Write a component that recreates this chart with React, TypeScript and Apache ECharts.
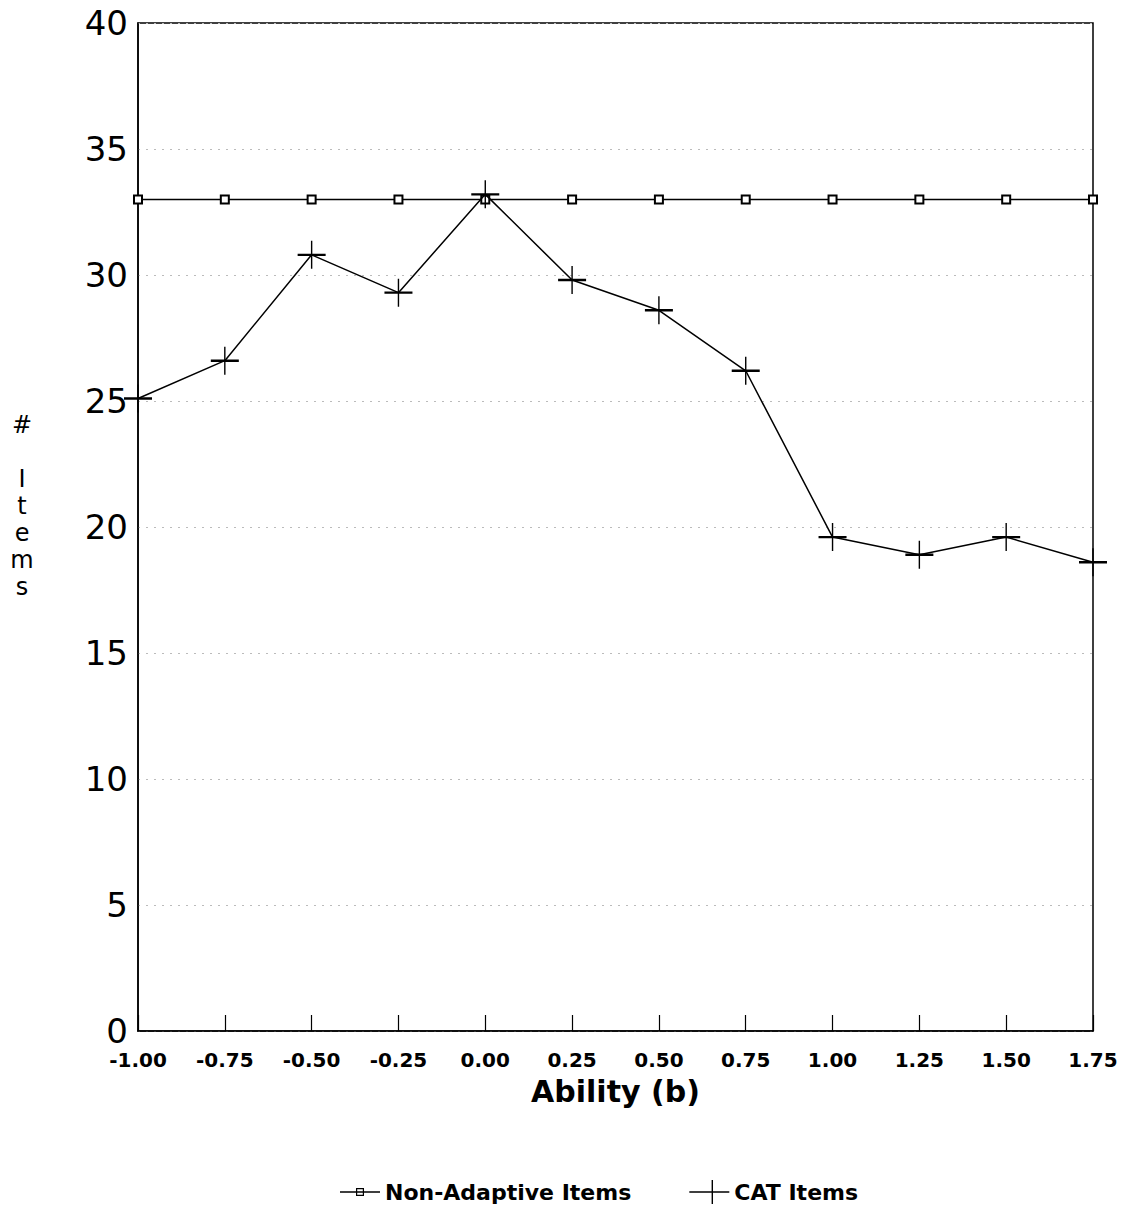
import React, { useEffect, useRef } from "react";
import * as echarts from "echarts";

const abilityTicks = [-1.0, -0.75, -0.5, -0.25, 0.0, 0.25, 0.5, 0.75, 1.0, 1.25, 1.5, 1.75];
const nonAdaptiveItems = [33, 33, 33, 33, 33, 33, 33, 33, 33, 33, 33, 33];
const catItems = [25.1, 26.6, 30.8, 29.3, 33.2, 29.8, 28.6, 26.2, 19.6, 18.9, 19.6, 18.6];
const yTitle = ["#", "", "I", "t", "e", "m", "s"];

const PLUS = "path://M0,12.8H28V15.2H0Z M13.3,0H14.7V28H13.3Z";
const LEG_NON =
  "path://M0,11.3H40V12.7H0Z M16,8H24V16H16Z M17.2,9.2V14.8H22.8V9.2Z";
const LEG_CAT = "path://M0,11.3H40V12.7H0Z M22.3,0H23.7V24H22.3Z";
const FONT = "DejaVu Sans";

export default function App() {
  const ref = useRef<HTMLDivElement>(null);
  useEffect(() => {
    if (!ref.current) return;
    const chart = echarts.init(ref.current, null, { renderer: "svg" });
    chart.setOption({
      animation: false,
      backgroundColor: "#fff",
      grid: {
        left: 138,
        right: 32,
        top: 23,
        bottom: 183,
        show: true,
        borderColor: "#000",
        borderWidth: 1.5,
        backgroundColor: "transparent",
      },
      graphic: [
        {
          type: "text",
          x: 22,
          y: 411,
          style: {
            text: yTitle.join("\n"),
            fontFamily: FONT,
            fontSize: 24,
            lineHeight: 27,
            fill: "#000",
            align: "center",
            verticalAlign: "top",
          },
        },
      ],
      legend: {
        bottom: 5,
        left: 335,
        itemWidth: 40,
        itemHeight: 24,
        itemGap: 58,
        textStyle: { fontFamily: FONT, fontSize: 22, fontWeight: "bold", color: "#000" },
        data: [
          { name: "Non-Adaptive Items", icon: LEG_NON },
          { name: "CAT Items", icon: LEG_CAT },
        ],
      },
      xAxis: {
        type: "value",
        min: -1,
        max: 1.75,
        interval: 0.25,
        name: "Ability (b)",
        nameLocation: "middle",
        nameGap: 45,
        nameTextStyle: { fontFamily: FONT, fontSize: 30, color: "#000", fontWeight: "bold" },
        axisLine: { show: true, onZero: false, lineStyle: { color: "#000", width: 1.5 } },
        axisTick: { show: true, inside: true, length: 16, lineStyle: { color: "#000", width: 1.2 } },
        splitLine: { show: false },
        axisLabel: {
          margin: 19,
          fontFamily: FONT,
          fontSize: 20,
          fontWeight: "bold",
          color: "#000",
          formatter: (v: number) => v.toFixed(2),
        },
      },
      yAxis: {
        type: "value",
        min: 0,
        max: 40,
        interval: 5,
        axisLine: { show: true, onZero: false, lineStyle: { color: "#000", width: 1.5 } },
        axisTick: { show: false },
        splitLine: { show: true, lineStyle: { color: "#bbb", type: [2, 6], width: 1 } },
        axisLabel: { margin: 10, fontFamily: FONT, fontSize: 34, color: "#000" },
      },
      series: [
        {
          name: "Non-Adaptive Items",
          type: "line",
          data: abilityTicks.map((x, i) => [x, nonAdaptiveItems[i]]),
          symbol: "emptyRect",
          symbolSize: 8,
          showAllSymbol: true,
          itemStyle: { color: "#000" },
          lineStyle: { color: "#000", width: 1.5 },
          z: 2,
        },
        {
          name: "CAT Items",
          type: "line",
          data: abilityTicks.map((x, i) => [x, catItems[i]]),
          symbol: PLUS,
          symbolSize: 28,
          showAllSymbol: true,
          itemStyle: { color: "#000" },
          lineStyle: { color: "#000", width: 1.5 },
          z: 3,
        },
      ],
    });
    return () => chart.dispose();
  }, []);
  return <div ref={ref} style={{ width: 1125, height: 1214, margin: "-8px" }} />;
}
